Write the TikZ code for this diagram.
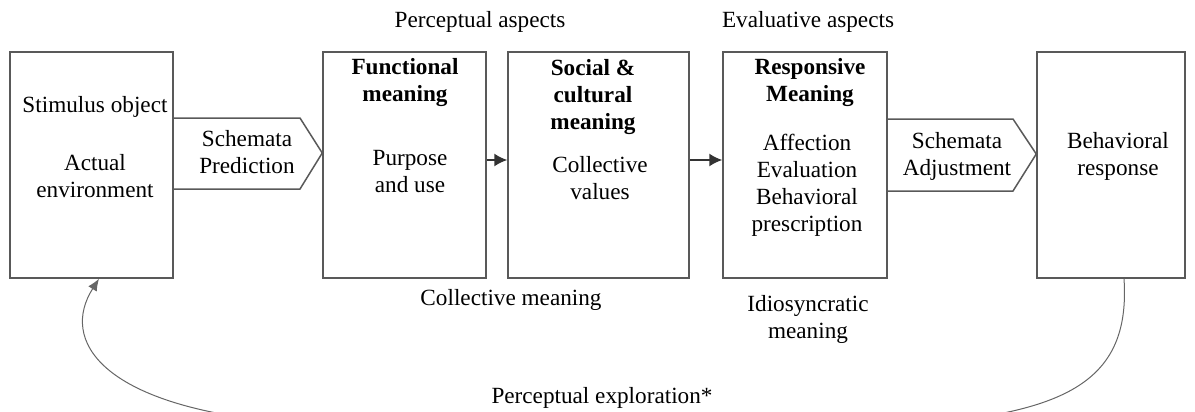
\documentclass[tikz,border=0pt]{standalone}
\usepackage{fontspec}
\setmainfont{Liberation Serif}
\usetikzlibrary{arrows.meta}
\begin{document}
\begin{tikzpicture}[x=0.5pt,y=-0.5pt,
  box/.style={draw=black!65,line width=0.75pt,minimum height=113pt,inner sep=0pt},
  shape2/.style={draw=black!65,line width=0.75pt,line join=miter},
  lbl/.style={font=\fontsize{11.6}{13.5}\selectfont,align=center,inner sep=0pt},
  blbl/.style={lbl,font=\fontsize{11.6}{13.5}\selectfont\bfseries},
  arr/.style={draw=black!80,line width=0.75pt,-{Latex[length=6.5pt,width=6.5pt]}},
  loop/.style={draw=black!60,line width=0.5pt,-{Latex[length=6pt,width=5pt]}}]
\useasboundingbox (0,0) rectangle (1195,412);
\clip (0,0) rectangle (1195,412);
% boxes
\node[box,minimum width=81.5pt] (b1) at (91.5,165) {};
\node[box,minimum width=81.5pt] (b2) at (404.5,165) {};
\node[box,minimum width=90.5pt] (b3) at (598.5,165) {};
\node[box,minimum width=82pt] (b4) at (805,165) {};
\node[box,minimum width=74pt] (b5) at (1111,165) {};
% pentagon arrows
\coordinate (p1top) at (300,118);
\coordinate (p1tip) at (0,153);
\coordinate (p1bot) at (300,189);
\draw[shape2] (b1.east |- p1top) -- (p1top) -- (b2.west |- p1tip) -- (p1bot) -- (b1.east |- p1bot);
\coordinate (p2top) at (1013,119);
\coordinate (p2tip) at (0,154);
\coordinate (p2bot) at (1013,191);
\draw[shape2] (b4.east |- p2top) -- (p2top) -- (b5.west |- p2tip) -- (p2bot) -- (b4.east |- p2bot);
% small arrows
\coordinate (ya) at (0,160);
\draw[arr] (b2.east |- ya) -- (b3.west |- ya);
\draw[arr] (b3.east |- ya) -- (b4.west |- ya);
% feedback loop
\coordinate (cs) at ([xshift=6.5pt]b5.south);
\coordinate (ce) at ([xshift=3.75pt]b1.south);
\draw[loop] (cs) .. controls (1130,370) and (1080,405) .. (960,420) -- (280,422) .. controls (100,405) and (60,340) .. (ce);
% texts
\node[lbl] (t1) at (95,107) {Stimulus object};
\node[lbl] (t2) at (95,176) {Actual\\environment};
\node[lbl] (t3) at (247,152) {Schemata\\Prediction};
\node[blbl] (t4) at (405,83) {Functional\\meaning};
\node[lbl] (t5) at (410,172) {Purpose\\and use};
\node[blbl] (t6) at (593,97) {Social \&\\cultural\\meaning};
\node[lbl] (t7) at (600,178) {Collective\\values};
\node[blbl] (t8) at (810,83) {Responsive\\Meaning};
\node[lbl] (t9) at (807,185) {Affection\\Evaluation\\Behavioral\\prescription};
\node[lbl] (t10) at (957,156) {Schemata\\Adjustment};
\node[lbl] (t11) at (1118,156) {Behavioral\\response};
\node[lbl] (t12) at (480,22) {Perceptual aspects};
\node[lbl] (t13) at (808,22) {Evaluative aspects};
\node[lbl] (t14) at (511,300) {Collective meaning};
\node[lbl] (t15) at (808,319) {Idiosyncratic\\meaning};
\node[lbl] (t16) at (602,398) {Perceptual exploration*};
\end{tikzpicture}
\end{document}
